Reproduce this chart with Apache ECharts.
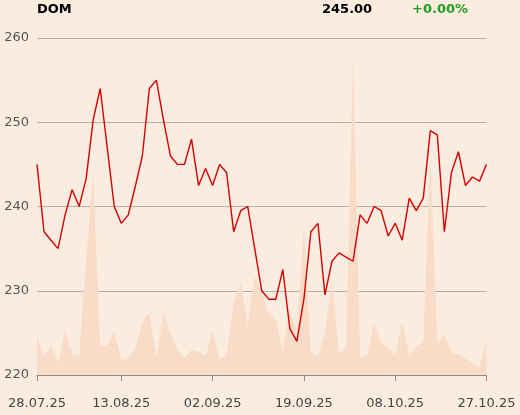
<!DOCTYPE html>
<html>
<head>
<meta charset="utf-8">
<style>
html,body{margin:0;padding:0;background:#fbece0;}
#chart{width:520px;height:415px;}
</style>
<script src="https://cdn.jsdelivr.net/npm/echarts@6/dist/echarts.min.js"></script>
</head>
<body>
<div id="chart"></div>
<script>
var dates = [
'28.07.25','29.07.25','30.07.25','31.07.25',
'01.08.25','04.08.25','05.08.25','06.08.25','07.08.25','08.08.25','11.08.25','12.08.25','13.08.25','14.08.25','15.08.25',
'18.08.25','19.08.25','20.08.25','21.08.25','22.08.25','25.08.25','26.08.25','27.08.25','28.08.25','29.08.25',
'02.09.25','03.09.25','04.09.25','05.09.25','08.09.25','09.09.25','10.09.25','11.09.25','12.09.25','15.09.25',
'16.09.25','17.09.25','18.09.25','19.09.25','22.09.25','23.09.25','24.09.25','25.09.25','26.09.25','29.09.25','30.09.25',
'01.10.25','02.10.25','03.10.25','06.10.25','07.10.25','08.10.25','09.10.25','10.10.25','13.10.25','14.10.25',
'15.10.25','16.10.25','17.10.25','20.10.25','21.10.25','22.10.25','23.10.25','24.10.25','27.10.25'
];
var prices = [
245.0,237.0,236.0,235.0,239.0,242.0,240.0,243.3,250.3,254.0,
247.0,240.0,238.0,239.0,242.4,246.0,254.0,255.0,250.3,246.0,
245.0,245.0,248.0,242.5,244.5,242.5,245.0,244.0,237.0,239.5,
240.0,235.0,230.0,229.0,229.0,232.5,225.5,224.0,229.0,237.0,
238.0,229.5,233.5,234.5,234.0,233.5,239.0,238.0,240.0,239.5,
236.5,238.0,236.0,241.0,239.5,241.0,249.0,248.5,237.0,244.0,
246.5,242.5,243.5,243.0,245.0
];
var volumes = [
1170,570,850,350,1350,620,590,3450,6030,850,
900,1300,450,510,800,1600,1870,500,1870,1250,
750,500,750,700,570,1300,480,600,2170,2730,
1500,2950,2450,1850,1650,750,1950,1250,4430,650,
550,1300,2800,650,800,9630,520,600,1600,930,
820,600,1570,600,830,1000,6550,900,1230,670,
630,500,350,230,1070
];
var tickLabels = ['28.07.25','13.08.25','02.09.25','19.09.25','08.10.25','27.10.25'];
var priceTicks = [220, 230, 240, 250, 260];
var ticker = 'DOM';
var lastPrice = '245.00';
var change = '+0.00%';

var chart = echarts.init(document.getElementById('chart'), null, {renderer:'canvas'});
function showIdx(i){ return tickLabels.indexOf(dates[i]) >= 0; }
var font = 'DejaVu Sans';
chart.setOption({
  backgroundColor: '#fbece0',
  animation: false,
  grid: {left: 37, right: 33.5, top: 38, bottom: 40, containLabel: false},
  graphic: [
    {type:'text', left: 37, top: 3, style:{text: ticker, font: 'bold 13px "DejaVu Sans"', fill:'#000'}},
    {type:'text', left: 322, top: 3, style:{text: lastPrice, font: 'bold 13px "DejaVu Sans"', fill:'#000'}},
    {type:'text', left: 412, top: 3, style:{text: change, font: 'bold 13px "DejaVu Sans"', fill:'#1f9e1f'}}
  ],
  xAxis: {
    type: 'category', data: dates, boundaryGap: false,
    axisLine: {lineStyle: {color: '#8c8c8c', width: 1}},
    axisTick: {interval: function(i){return showIdx(i);}, length: 6, lineStyle: {color: '#8c8c8c'}},
    axisLabel: {interval: function(i){return showIdx(i);}, color: '#444', fontFamily: font, fontSize: 13, margin: 22, showMaxLabel: true},
    splitLine: {show: false}
  },
  yAxis: [
    {type: 'value', min: priceTicks[0], max: priceTicks[priceTicks.length-1], interval: 10,
     axisLine: {show: false}, axisTick: {show: false},
     axisLabel: {color: '#555', fontFamily: font, fontSize: 13, margin: 8},
     splitLine: {lineStyle: {color: '#b4b0ac', width: 1}}},
    {type: 'value', min: 0, max: 10110, show: false, splitLine: {show: false}}
  ],
  series: [
    {type: 'line', yAxisIndex: 1, data: volumes, symbol: 'none', silent: true,
     lineStyle: {width: 0}, areaStyle: {color: '#f8dcc7', opacity: 1}, z: 1},
    {type: 'line', yAxisIndex: 0, data: prices, symbol: 'none',
     lineStyle: {color: '#d40000', width: 1.4}, z: 3}
  ]
});
</script>
</body>
</html>
